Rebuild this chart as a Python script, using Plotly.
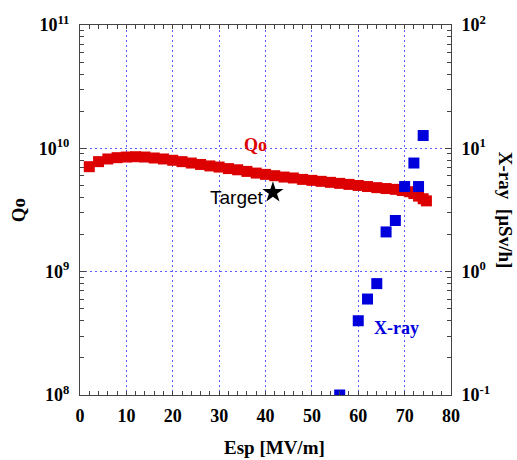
import plotly.graph_objects as go

# ---- data ----
esp_q = [2, 4, 6, 8, 10, 12, 14, 16, 18, 20, 22, 24, 26, 28, 30, 32, 34, 36, 38, 40,
         42, 44, 46, 48, 50, 52, 54, 56, 58, 60, 62, 64, 66, 68, 69.5, 71, 72, 73, 74, 74.7]
q0 = [7.1e9, 7.8e9, 8.2e9, 8.4e9, 8.5e9, 8.55e9, 8.5e9, 8.35e9, 8.2e9, 8.0e9,
      7.8e9, 7.6e9, 7.4e9, 7.2e9, 7.05e9, 6.85e9, 6.7e9, 6.5e9, 6.3e9, 6.15e9,
      6.0e9, 5.85e9, 5.75e9, 5.6e9, 5.5e9, 5.4e9, 5.3e9, 5.2e9, 5.1e9, 5.0e9,
      4.9e9, 4.8e9, 4.72e9, 4.65e9, 4.55e9, 4.45e9, 4.3e9, 4.1e9, 3.9e9, 3.75e9]

esp_x = [56, 60, 62, 64, 66, 68, 70, 72, 73, 74]
xray = [0.1, 0.4, 0.6, 0.8, 2.1, 2.6, 4.9, 7.6, 4.9, 12.7]

target_esp = [41.6]
target_q = [4.38e9]

x_ticks = [0, 10, 20, 30, 40, 50, 60, 70, 80]
y1_ticks = [1e8, 1e9, 1e10, 1e11]
y1_text = ["10<sup>8</sup>", "10<sup>9</sup>", "10<sup>10</sup>", "10<sup>11</sup>"]
y2_ticks = [0.1, 1, 10, 100]
y2_text = ["10<sup>-1</sup>", "10<sup>0</sup>", "10<sup>1</sup>", "10<sup>2</sup>"]

# ---- geometry ----
W, H = 517, 460
L, R, T, B = 80, 451.5, 24.5, 395


def px(xp):
    return (xp - L) / (R - L)


def py(yp):
    return (B - yp) / (B - T)


SERIF = "Liberation Serif"
AX = "#444444"
GRID = "#5c5cff"
GDASH = "2px,3px"
RED = "#dd0000"
BLUE = "#0000dd"

fig = go.Figure()
fig.add_trace(go.Scatter(x=esp_q, y=q0, mode="markers",
                         marker=dict(symbol="square", size=11, color=RED, line=dict(width=0)),
                         yaxis="y", showlegend=False))
fig.add_trace(go.Scatter(x=target_esp, y=target_q, mode="markers",
                         marker=dict(symbol="star", size=16, color="black", line=dict(width=0)),
                         yaxis="y", showlegend=False))
fig.add_trace(go.Scatter(x=esp_x, y=xray, mode="markers",
                         marker=dict(symbol="square", size=11, color=BLUE, line=dict(width=0)),
                         yaxis="y2", showlegend=False))


def minor_log(lo, hi):
    vals = []
    for k in range(lo, hi):
        for m in range(2, 10):
            vals.append(m * 10 ** k)
    return vals


tickfont = dict(family=SERIF, size=18, color="black", weight="bold")

fig.update_layout(
    width=W, height=H,
    paper_bgcolor="white", plot_bgcolor="white",
    margin=dict(l=L, r=W - R, t=T, b=H - B, pad=0),
    xaxis=dict(range=[0, 80], tickmode="array", tickvals=x_ticks,
               ticks="inside", ticklen=4, tickcolor=AX, tickwidth=1,
               showline=True, linecolor=AX, linewidth=1, mirror="ticks",
               showgrid=True, gridcolor=GRID, griddash=GDASH, gridwidth=1,
               zeroline=False, tickfont=tickfont, ticklabelstandoff=4,
               minor=dict(tickmode="array", tickvals=[v for v in range(2, 80, 2) if v % 10],
                          ticks="inside", ticklen=4, tickcolor=AX, showgrid=False)),
    yaxis=dict(type="log", range=[8, 11], tickmode="array", tickvals=y1_ticks, ticktext=y1_text,
               ticks="inside", ticklen=6, tickcolor=AX, tickwidth=1,
               showline=True, linecolor=AX, linewidth=1, mirror=True,
               showgrid=True, gridcolor=GRID, griddash=GDASH, gridwidth=1,
               zeroline=False, tickfont=tickfont, ticklabelstandoff=6,
               minor=dict(tickmode="array", tickvals=minor_log(8, 11),
                          ticks="inside", ticklen=4, tickcolor=AX, showgrid=False)),
    yaxis2=dict(type="log", range=[-1, 2], overlaying="y", side="right",
                tickmode="array", tickvals=y2_ticks, ticktext=y2_text,
                ticks="inside", ticklen=6, tickcolor=AX, tickwidth=1,
                showline=True, linecolor=AX, linewidth=1,
                showgrid=False, zeroline=False, tickfont=tickfont, ticklabelstandoff=6,
                minor=dict(tickmode="array", tickvals=minor_log(-1, 2),
                           ticks="inside", ticklen=4, tickcolor=AX, showgrid=False)),
    annotations=[
        dict(text="<b>Esp [MV/m]</b>", x=px(275), y=py(448), xref="paper", yref="paper",
             showarrow=False, xanchor="center", yanchor="middle",
             font=dict(family=SERIF, size=19, color="black")),
        dict(text="<b>Qo</b>", x=px(18), y=py(210), xref="paper", yref="paper",
             showarrow=False, xanchor="center", yanchor="middle", textangle=-90,
             font=dict(family=SERIF, size=19, color="black")),
        dict(text="<b>X-ray  [µSv/h]</b>", x=px(506), y=py(210), xref="paper", yref="paper",
             showarrow=False, xanchor="center", yanchor="middle", textangle=90,
             font=dict(family=SERIF, size=19, color="black")),
        dict(text="<b>Qo</b>", x=px(256), y=py(145), xref="paper", yref="paper",
             showarrow=False, xanchor="center", yanchor="middle",
             font=dict(family=SERIF, size=18, color=RED)),
        dict(text="<b>X-ray</b>", x=px(397), y=py(328), xref="paper", yref="paper",
             showarrow=False, xanchor="center", yanchor="middle",
             font=dict(family=SERIF, size=18, color=BLUE)),
        dict(text="Target", x=px(266), y=py(197), xref="paper", yref="paper",
             showarrow=False, xanchor="right", yanchor="middle",
             font=dict(family="Liberation Sans", size=19, color="black")),
    ],
)

fig.write_html("out.html", config={"displayModeBar": False},
               post_script="document.body.style.margin='0';document.body.style.padding='0';")
